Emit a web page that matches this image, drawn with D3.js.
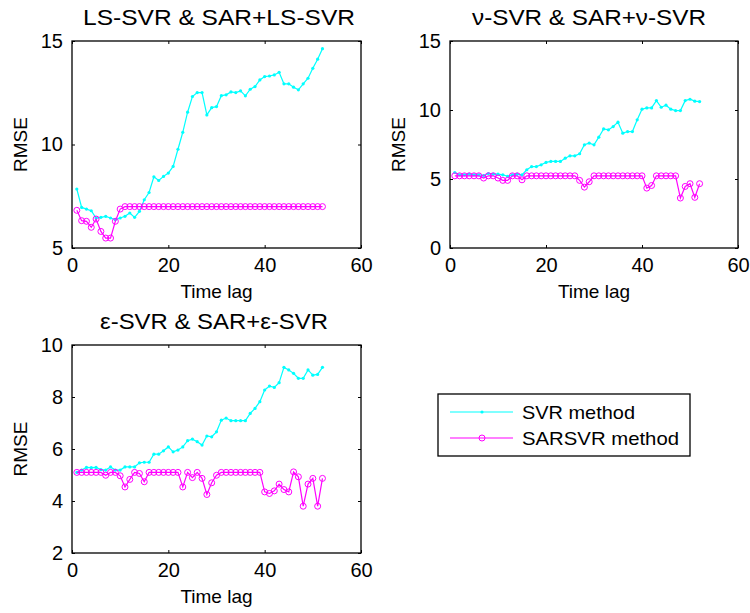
<!DOCTYPE html>
<html>
<head>
<meta charset="utf-8">
<script src="https://cdn.jsdelivr.net/npm/d3@7"></script>
<style>
  body { margin: 0; background: #fff; }
  svg { font-family: "Liberation Sans", Arial, sans-serif; }
  .axis path { display: none; }
  .axis line { stroke: #000; }
  .axis text { font-size: 20px; fill: #000; }
</style>
</head>
<body>
<svg width="750" height="613"></svg>
<script>
// time lags 1..52
var lags = [1,2,3,4,5,6,7,8,9,10,11,12,13,14,15,16,17,18,19,20,21,22,23,24,25,26,
    27,28,29,30,31,32,33,34,35,36,37,38,39,40,41,42,43,44,45,46,47,48,49,50,51,52];

var xTicks = [0, 20, 40, 60];

// LS-SVR panel
var lsSvr = [7.85,6.96,6.88,6.80,6.45,6.48,6.53,6.45,6.37,6.45,6.53,6.69,6.48,6.77,7.33,7.68,
    8.44,8.26,8.46,8.62,8.94,9.77,10.59,11.56,12.32,12.51,12.51,11.43,11.78,11.83,12.36,12.40,
    12.54,12.51,12.59,12.35,12.67,12.80,13.12,13.28,13.31,13.36,13.49,12.93,12.93,12.77,12.64,
    12.93,13.20,13.68,14.12,14.63];
var lsSar = [6.82,6.32,6.29,6.00,6.40,5.80,5.48,5.48,6.29,6.88,7.0,7.0,7.0,7.0,7.0,7.0,
    7.0,7.0,7.0,7.0,7.0,7.0,7.0,7.0,7.0,7.0,7.0,7.0,7.0,7.0,7.0,7.0,7.0,7.0,7.0,7.0,
    7.0,7.0,7.0,7.0,7.0,7.0,7.0,7.0,7.0,7.0,7.0,7.0,7.0,7.0,7.0,7.0];
var lsYTicks = [5, 10, 15];

// nu-SVR panel
var nuSvr = [5.47,5.30,5.30,5.35,5.30,5.30,5.25,5.40,5.35,5.35,5.30,5.20,5.30,5.35,5.30,5.67,
    5.90,5.90,6.03,6.20,6.27,6.27,6.27,6.51,6.68,6.68,6.83,7.48,7.60,7.48,8.03,8.63,8.56,8.80,
    9.12,8.32,8.44,8.44,9.29,10.06,10.15,10.15,10.68,10.20,10.35,10.06,9.96,9.96,10.68,10.78,
    10.64,10.61];
var nuSar = [5.23,5.23,5.23,5.23,5.23,5.23,5.07,5.23,5.23,5.07,4.90,4.90,5.23,5.23,4.94,5.23,
    5.23,5.23,5.23,5.23,5.23,5.23,5.23,5.23,5.23,5.23,4.90,4.41,4.80,5.23,5.23,5.23,5.23,5.23,
    5.23,5.23,5.23,5.23,5.23,5.23,4.34,4.53,5.23,5.23,5.23,5.23,5.23,3.62,4.46,4.66,3.67,4.66];
var nuYTicks = [0, 5, 10, 15];

// epsilon-SVR panel
var epsSvr = [5.10,5.19,5.29,5.28,5.29,5.21,5.19,5.31,5.19,5.19,5.31,5.31,5.31,5.47,5.49,5.49,
    5.80,5.80,5.93,6.08,5.89,5.96,6.08,6.32,6.38,6.28,6.15,6.50,6.47,6.66,7.11,7.19,7.09,7.09,
    7.09,7.09,7.37,7.56,7.82,8.27,8.42,8.37,8.55,9.14,9.04,8.91,8.72,8.72,9.04,8.84,8.87,9.14];
var epsSar = [5.10,5.10,5.10,5.10,5.10,5.10,4.99,5.10,5.10,4.97,4.54,4.83,5.10,5.06,4.74,5.10,
    5.10,5.10,5.10,5.10,5.10,5.10,4.54,5.10,4.90,5.10,4.87,4.25,4.70,4.99,5.10,5.10,5.10,5.10,
    5.10,5.10,5.10,5.10,5.10,4.35,4.29,4.39,4.65,4.44,4.35,5.12,4.93,3.80,4.65,4.87,3.80,4.87];
var epsYTicks = [2, 4, 6, 8, 10];

var legendNames = ["SVR method", "SARSVR method"];

var svg = d3.select("svg");
var cyan = "#00ffff", magenta = "#ff00ff";

function panel(opt) {
    var x = d3.scaleLinear().domain([0, 60]).range([opt.left, opt.right]);
    var y = d3.scaleLinear().domain(opt.yDomain).range([opt.bottom, opt.top]);
    var g = svg.append("g");

    var svrPts = lags.map(function (d, i) { return [d, opt.svr[i]]; });
    var sarPts = lags.map(function (d, i) { return [d, opt.sar[i]]; });
    var line = d3.line().x(function (d) { return x(d[0]); }).y(function (d) { return y(d[1]); });

    g.append("path").attr("d", line(svrPts)).attr("fill", "none")
        .attr("stroke", cyan).attr("stroke-width", 1.2);
    g.selectAll(".dot").data(svrPts).enter().append("circle")
        .attr("cx", function (d) { return x(d[0]); })
        .attr("cy", function (d) { return y(d[1]); })
        .attr("r", 1.6).attr("fill", cyan);

    g.append("path").attr("d", line(sarPts)).attr("fill", "none")
        .attr("stroke", magenta).attr("stroke-width", 1.2);
    g.selectAll(".ring").data(sarPts).enter().append("circle")
        .attr("cx", function (d) { return x(d[0]); })
        .attr("cy", function (d) { return y(d[1]); })
        .attr("r", 3).attr("fill", "none").attr("stroke", magenta).attr("stroke-width", 1);

    // axes, ticks inside on all four sides
    g.append("g").attr("class", "axis").attr("transform", "translate(0," + opt.bottom + ")")
        .call(d3.axisBottom(x).tickValues(xTicks).tickSize(-3).tickPadding(10));
    g.append("g").attr("class", "axis").attr("transform", "translate(0," + opt.top + ")")
        .call(d3.axisTop(x).tickValues(xTicks).tickSize(-3).tickFormat(""));
    g.append("g").attr("class", "axis").attr("transform", "translate(" + opt.left + ",0)")
        .call(d3.axisLeft(y).tickValues(opt.yTicks).tickSize(-3).tickPadding(9));
    g.append("g").attr("class", "axis").attr("transform", "translate(" + opt.right + ",0)")
        .call(d3.axisRight(y).tickValues(opt.yTicks).tickSize(-3).tickFormat(""));

    g.append("rect").attr("x", opt.left).attr("y", opt.top)
        .attr("width", opt.right - opt.left).attr("height", opt.bottom - opt.top)
        .attr("fill", "none").attr("stroke", "#000").attr("stroke-width", 1.3);

    g.append("text").attr("x", opt.titleX).attr("y", opt.top - 16)
        .attr("text-anchor", "middle").attr("font-size", 22)
        .attr("textLength", opt.titleLen).attr("lengthAdjust", "spacingAndGlyphs")
        .text(opt.title);

    g.append("text").attr("x", (opt.left + opt.right) / 2).attr("y", opt.bottom + 50)
        .attr("text-anchor", "middle").attr("font-size", 19).text("Time lag");

    g.append("text")
        .attr("transform", "translate(" + (opt.left - 45) + "," + ((opt.top + opt.bottom) / 2) + ") rotate(-90)")
        .attr("text-anchor", "middle").attr("font-size", 19).text("RMSE");
}

panel({ left: 72, right: 361, top: 41, bottom: 248, yDomain: [5, 15], yTicks: lsYTicks,
    svr: lsSvr, sar: lsSar, title: "LS-SVR & SAR+LS-SVR", titleX: 219, titleLen: 272 });
panel({ left: 450, right: 738, top: 41, bottom: 248, yDomain: [0, 15], yTicks: nuYTicks,
    svr: nuSvr, sar: nuSar, title: "\u03bd-SVR & SAR+\u03bd-SVR", titleX: 589, titleLen: 234 });
panel({ left: 72, right: 361, top: 345, bottom: 553, yDomain: [2, 10], yTicks: epsYTicks,
    svr: epsSvr, sar: epsSar, title: "\u03b5-SVR & SAR+\u03b5-SVR", titleX: 214, titleLen: 228 });

// legend
var lg = svg.append("g").attr("transform", "translate(438,394)");
lg.append("rect").attr("width", 252).attr("height", 62)
    .attr("fill", "#fff").attr("stroke", "#000").attr("stroke-width", 1.3);
var rows = lg.selectAll(".row").data(legendNames).enter().append("g")
    .attr("transform", function (d, i) { return "translate(0," + (18 + i * 26) + ")"; });
rows.append("line").attr("x1", 12).attr("x2", 75).attr("y1", 0).attr("y2", 0)
    .attr("stroke", function (d, i) { return i ? magenta : cyan; }).attr("stroke-width", 1.2);
rows.append("circle").attr("cx", 44).attr("cy", 0)
    .attr("r", function (d, i) { return i ? 3 : 1.6; })
    .attr("fill", function (d, i) { return i ? "none" : cyan; })
    .attr("stroke", function (d, i) { return i ? magenta : "none"; });
rows.append("text").attr("x", 84).attr("dy", "0.35em").attr("font-size", 19)
    .attr("textLength", function (d, i) { return i ? 157 : 113; })
    .attr("lengthAdjust", "spacingAndGlyphs")
    .text(function (d) { return d; });
</script>
</body>
</html>
